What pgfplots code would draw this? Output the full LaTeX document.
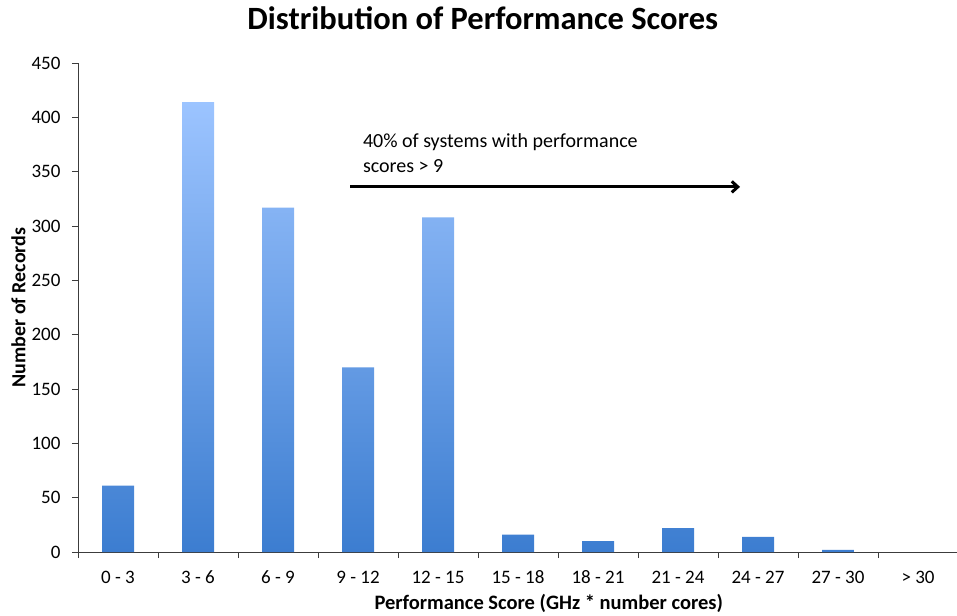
\documentclass[border=0pt]{standalone}
\usepackage{pgfplots}
\pgfplotsset{compat=1.18}
\usepackage{fontspec}
\setmainfont{Carlito}
\usetikzlibrary{arrows.meta}
\definecolor{barTop}{RGB}{156,196,255}
\definecolor{barBot}{RGB}{60,125,208}
\definecolor{axcol}{RGB}{60,60,60}
\begin{document}
\begin{tikzpicture}
\path[use as bounding box] (-78pt,-63pt) rectangle (879pt,552pt);
\begin{axis}[
  at={(0pt,0pt)}, anchor=south west,
  scale only axis, width=880pt, height=489pt,
  xmin=-0.5, xmax=10.5, ymin=0, ymax=450,
  axis x line=bottom, axis y line=left,
  axis line style={-, axcol, line width=0.8pt},
  tick style={axcol, line width=0.8pt},
  tick align=outside, major tick length=6pt,
  xtick={-0.5,0.5,1.5,2.5,3.5,4.5,5.5,6.5,7.5,8.5,9.5,10.5},
  x tick label as interval,
  xticklabels={0 - 3,3 - 6,6 - 9,9 - 12,12 - 15,15 - 18,18 - 21,21 - 24,24 - 27,27 - 30,> 30},
  ytick={0,50,...,450},
  /pgf/number format/assume math mode=true,
  tick label style={font=\fontsize{19}{22}\selectfont, black},
  xticklabel style={yshift=-9pt, text height=13pt, text depth=0pt},
  yticklabel style={xshift=-8pt},
  xlabel={Performance Score (GHz * number cores)},
  ylabel={Number of Records},
  xlabel style={font=\bfseries\fontsize{20.5}{24}\selectfont, at={(axis description cs:0.535,-0.106)}, anchor=center},
  ylabel style={font=\bfseries\fontsize{20}{24}\selectfont, at={(axis description cs:-0.0676,0.5)}, anchor=center},
  title={Distribution of Performance Scores},
  title style={font=\bfseries\fontsize{32.5}{38}\selectfont, at={(axis description cs:0.46,1.08)}, anchor=center},
  clip=false,
]
\addplot[ybar, bar width=32pt, draw=none, top color=barTop, bottom color=barBot, shading=axis]
  coordinates {(0,61) (1,414) (2,317) (3,170) (4,308) (5,16) (6,10) (7,22) (8,14) (9,2)};
\draw[-{Straight Barb[length=6pt,width=11pt]}, line width=3pt, black] (axis cs:2.9,336) -- (axis cs:7.775,336);
\node[anchor=north west, inner sep=0pt, align=left, font=\fontsize{20}{24.5}\selectfont] at (axis cs:3.06,385) {40\% of systems with performance\\scores > 9};
\end{axis}
\end{tikzpicture}
\end{document}
